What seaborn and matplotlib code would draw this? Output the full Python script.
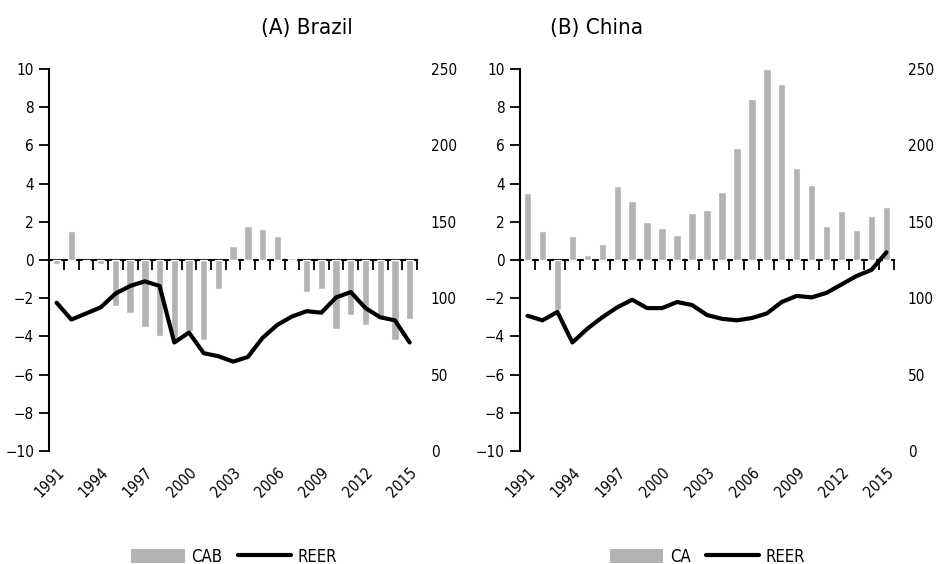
import numpy as np
import pandas as pd
import matplotlib
matplotlib.use("Agg")
import matplotlib.pyplot as plt
from matplotlib.patches import Patch
from matplotlib.lines import Line2D
import seaborn as sns

# Data
years = list(range(1991, 2016))
brazil_cab = [-0.2, 1.5, 0.0, -0.2, -2.4, -2.8, -3.5, -4.0, -4.3, -3.7, -4.2, -1.5, 0.75,
              1.8, 1.6, 1.25, 0.1, -1.7, -1.5, -3.6, -2.9, -3.4, -3.1, -4.2, -3.1]
brazil_reer = [97, 86, 90, 94, 103, 108, 111, 108, 71, 77.5, 64, 62, 58.5, 61.5, 74,
               82.5, 88, 91.5, 90.5, 100.5, 104, 93.5, 87.5, 85.5, 71]
china_ca = [3.5, 1.5, -2.6, 1.25, 0.25, 0.85, 3.85, 3.1, 2.0, 1.7, 1.3, 2.45, 2.6, 3.55,
            5.85, 8.45, 10.0, 9.2, 4.8, 3.95, 1.8, 2.55, 1.55, 2.3, 2.75]
china_reer = [88.5, 85.5, 91, 71, 80, 87.5, 94, 99, 93.5, 93.5, 97.5, 95.5, 89, 86.5, 85.5,
              87, 90, 97.5, 101.5, 100.5, 103.5, 109, 114.5, 118.5, 130]

tick_years = [1991, 1994, 1997, 2000, 2003, 2006, 2009, 2012, 2015]

sns.set_style("white")
plt.rcParams['font.family'] = ['DejaVu Sans']
plt.rcParams['font.stretch'] = 'condensed'
plt.rcParams['text.color'] = 'black'
plt.rcParams['xtick.color'] = 'black'
plt.rcParams['ytick.color'] = 'black'

bar_color = "#b3b3b3"

fig = plt.figure(figsize=(9.37, 5.64), dpi=100)

panels = [
    ("(A) Brazil", brazil_cab, brazil_reer, "CAB", [0.0526, 0.2004, 0.3924, 0.6773], 0.327, 0.25),
    ("(B) China", china_ca, china_reer, "CA", [0.555, 0.2004, 0.399, 0.6773], 0.637, 0.755),
]

for title, bars, reer, bar_label, rect, title_x, legend_x in panels:
    ax = fig.add_axes(rect)
    df = pd.DataFrame({"year": [str(y) for y in years], "value": bars, "reer": reer})
    sns.barplot(data=df, x="year", y="value", color=bar_color, width=0.5,
                saturation=1, ax=ax)
    ax.set_xlim(-0.5, len(years) - 0.5)
    ax.set_ylim(-10, 10)
    ax.set_yticks(range(-10, 11, 2))
    ax.set_xlabel("")
    ax.set_ylabel("")
    for s in ["top", "right", "bottom"]:
        ax.spines[s].set_visible(False)
    ax.spines["left"].set_linewidth(1.5)
    ax.spines["left"].set_color("black")
    ax.tick_params(axis="y", direction="out", length=7, width=1.3, labelsize=11, pad=4, left=True)

    idx = [years.index(y) for y in tick_years]
    ax.set_xticks(idx)
    ax.set_xticklabels([str(y) for y in tick_years], rotation=45, ha="right",
                       rotation_mode="anchor", fontsize=11)
    ax.tick_params(axis="x", length=0, pad=10)

    # zero line with category boundary ticks pointing down
    zero_ax = ax.secondary_xaxis(0.5)
    zero_ax.set_xticks(np.arange(-0.5, len(years), 1.0))
    zero_ax.set_xticklabels([])
    zero_ax.tick_params(axis="x", direction="in", length=7, width=1.3)
    for s in zero_ax.spines.values():
        s.set_linewidth(1.5)
        s.set_color("black")

    ax2 = ax.twinx()
    sns.lineplot(data=df.assign(pos=np.arange(len(years))), x="pos", y="reer",
                 color="black", linewidth=3, ax=ax2)
    ax2.set_ylim(0, 250)
    ax2.set_yticks(range(0, 251, 50))
    ax2.set_ylabel("")
    ax2.set_xlabel("")
    for s in ["top", "right", "bottom", "left"]:
        ax2.spines[s].set_visible(False)
    ax2.tick_params(axis="y", length=0, labelsize=11, pad=10)
    ax.set_xlim(-0.5, len(years) - 0.5)

    fig.text(title_x, 0.95, title, ha="center", va="center", fontsize=16)

    handles = [Patch(facecolor=bar_color, edgecolor="none", label=bar_label),
               Line2D([0], [0], color="black", linewidth=3, label="REER")]
    fig.legend(handles=handles, loc="center", bbox_to_anchor=(legend_x, 0.013),
               ncol=2, frameon=False, fontsize=12, handlelength=3.2, handleheight=0.9,
               handletextpad=0.4, columnspacing=0.9)

fig.savefig("out.png", dpi=100)
